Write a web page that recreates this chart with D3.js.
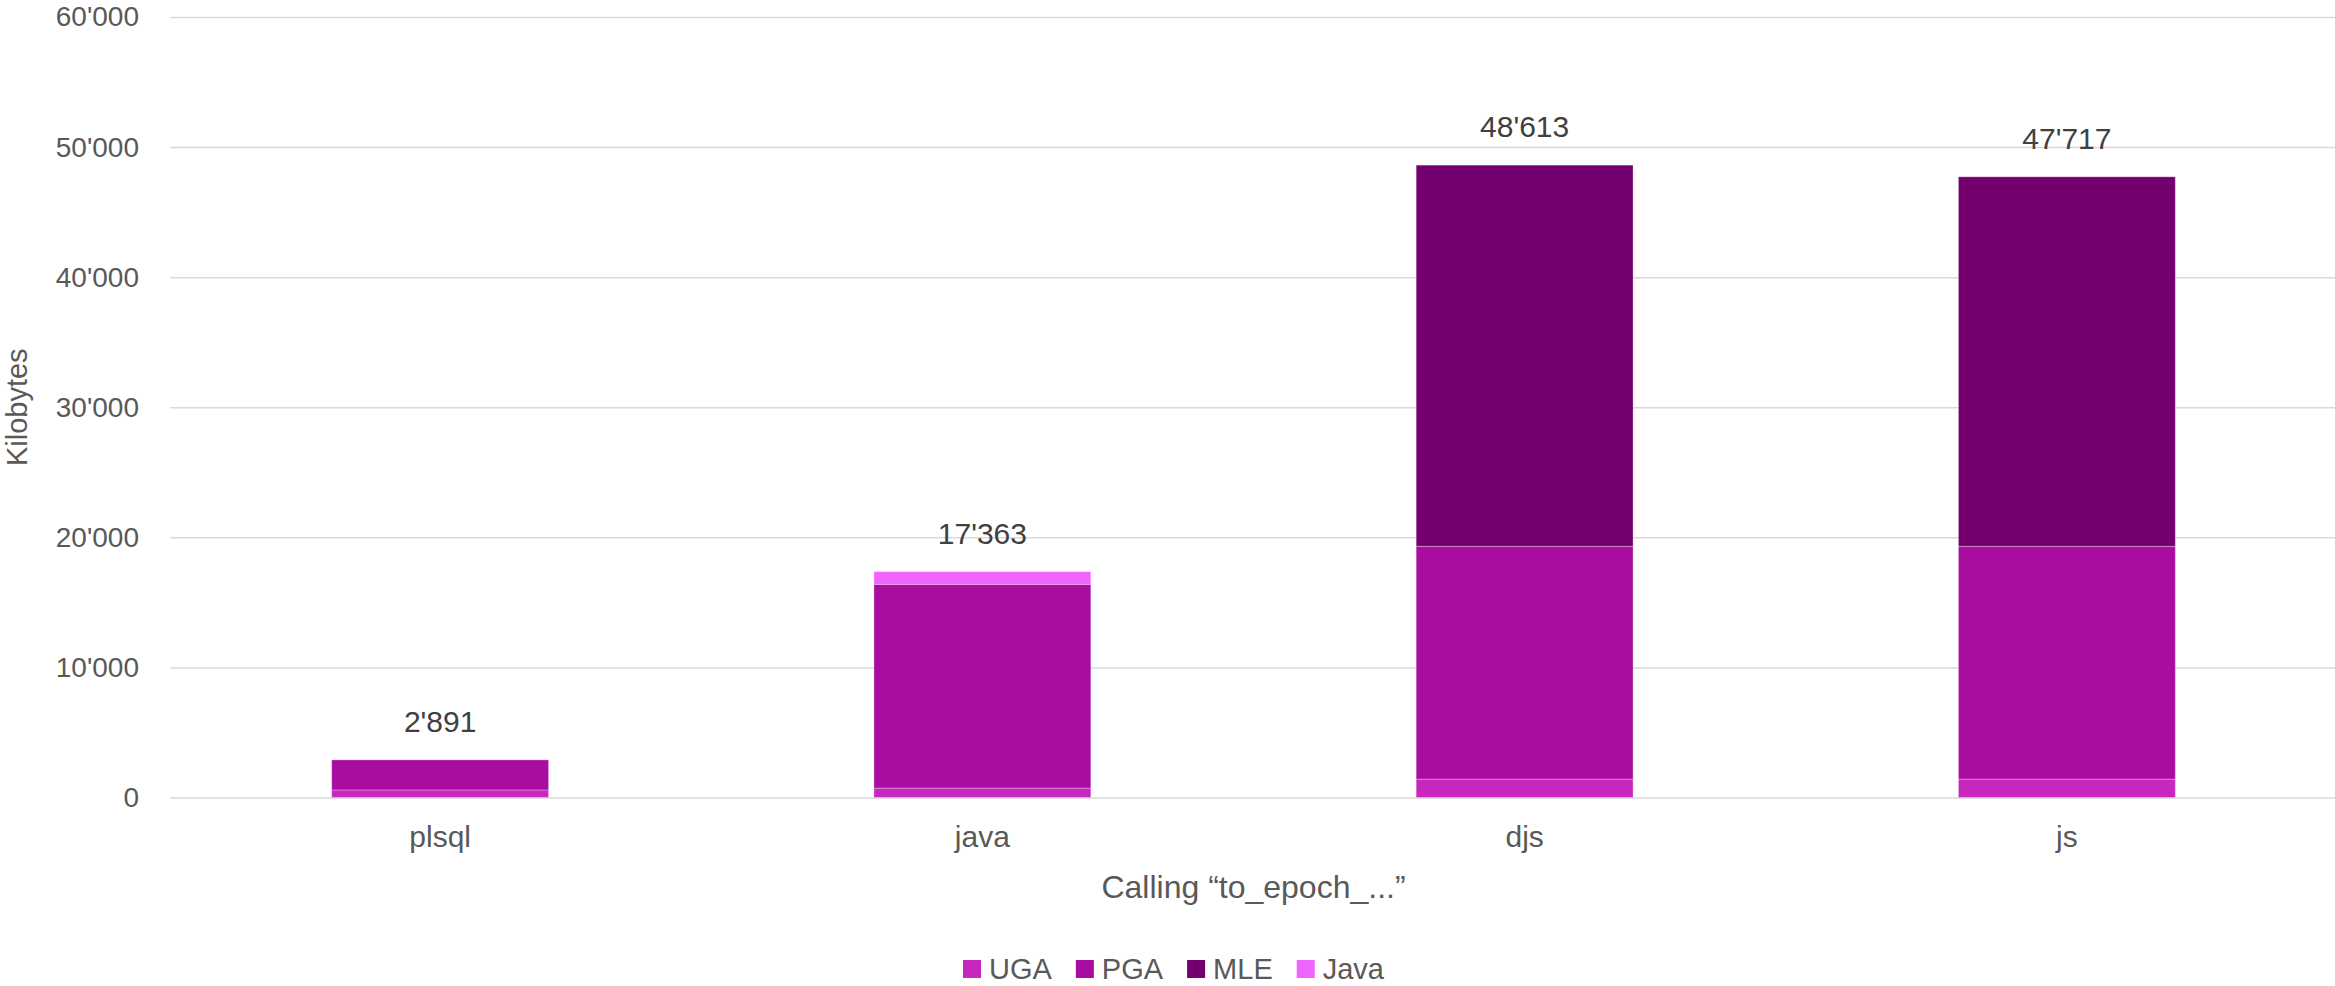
<!DOCTYPE html>
<html>
<head>
<meta charset="utf-8">
<script src="https://cdn.jsdelivr.net/npm/d3@7"></script>
<style>
  body { margin: 0; background: #fff; }
  svg { display: block; font-family: "Liberation Sans", Arial, sans-serif; }
</style>
</head>
<body>
<script>
// chart data
let categories = ['plsql', 'java', 'djs', 'js']
let seriesNames = ['UGA', 'PGA', 'MLE', 'Java']
let ugaValues = [580, 723, 1415, 1415]
let pgaValues = [2311, 15662, 17893, 17893]
let mleValues = [0, 0, 29305, 28409]
let javaValues = [0, 978, 0, 0]
let totals = [2891, 17363, 48613, 47717]
let yTicks = [0, 10000, 20000, 30000, 40000, 50000, 60000]

let colors = { UGA: '#c727bf', PGA: '#a90da0', MLE: '#74006f', Java: '#f064fe' }

let svgWidth = 2335, svgHeight = 986
let plot = { left: 169, right: 2338, top: 17, bottom: 797.5 }

let fmt = d3.formatLocale({ decimal: '.', thousands: "'", grouping: [3], currency: ['', ''] }).format(',d')

let rows = categories.map(function (c, i) {
    return { cat: c, UGA: ugaValues[i], PGA: pgaValues[i], MLE: mleValues[i], Java: javaValues[i], total: totals[i] }
})

let svg = d3.select('body').append('svg')
    .attr('width', svgWidth)
    .attr('height', svgHeight)

let xScale = d3.scaleBand()
    .domain(categories)
    .range([plot.left, plot.right])
    .paddingInner(0.6)
    .paddingOuter(0.3)

let yScale = d3.scaleLinear()
    .domain([0, 60000])
    .range([plot.bottom, plot.top])

// gridlines + y labels
let yAxis = svg.append('g')
    .attr('transform', 'translate(' + (plot.left + 1) + ',0)')
    .call(d3.axisLeft(yScale).tickValues(yTicks).tickFormat(fmt)
        .tickSize(-(svgWidth - plot.left)).tickPadding(31))
yAxis.select('.domain').remove()
yAxis.selectAll('line').attr('stroke', '#d9d9d9').attr('stroke-width', 1.5)
yAxis.selectAll('text').attr('fill', '#595959').style('font-size', '28px')
    .style('font-family', '"Liberation Sans", Arial, sans-serif')

// stacked bars
let stack = d3.stack().keys(seriesNames)
let layers = stack(rows)

svg.append('g').selectAll('g')
    .data(layers)
    .enter().append('g')
    .attr('fill', function (d) { return colors[d.key] })
    .selectAll('rect')
    .data(function (d) { return d.filter(function (p) { return p[1] > p[0] }) })
    .enter().append('rect')
    .attr('x', function (d) { return xScale(d.data.cat) })
    .attr('width', xScale.bandwidth())
    .attr('y', function (d) { return yScale(d[1]) })
    .attr('height', function (d) { return yScale(d[0]) - yScale(d[1]) })
    .attr('stroke', 'rgba(255,255,255,0.3)')
    .attr('stroke-width', 1)

// total labels
svg.append('g').selectAll('text')
    .data(rows)
    .enter().append('text')
    .attr('x', function (d) { return xScale(d.cat) + xScale.bandwidth() / 2 })
    .attr('y', function (d) { return yScale(d.total) - 28 })
    .attr('text-anchor', 'middle')
    .attr('fill', '#404040')
    .style('font-size', '30px')
    .text(function (d) { return fmt(d.total) })

// x labels
let xAxis = svg.append('g')
    .attr('transform', 'translate(0,' + plot.bottom + ')')
    .call(d3.axisBottom(xScale).tickSize(0).tickPadding(28))
xAxis.select('.domain').remove()
xAxis.selectAll('text').attr('fill', '#595959').style('font-size', '30px')
    .style('font-family', '"Liberation Sans", Arial, sans-serif')

// axis titles
svg.append('text')
    .attr('x', (plot.left + plot.right) / 2)
    .attr('y', 898)
    .attr('text-anchor', 'middle')
    .attr('fill', '#595959')
    .style('font-size', '32px')
    .text('Calling \u201cto_epoch_...\u201d')

svg.append('text')
    .attr('transform', 'translate(27,' + ((plot.top + plot.bottom) / 2) + ') rotate(-90)')
    .attr('text-anchor', 'middle')
    .attr('fill', '#595959')
    .style('font-size', '29px')
    .text('Kilobytes')

// legend
let legend = svg.append('g').attr('transform', 'translate(963,960)')
let lx = 0
seriesNames.forEach(function (name) {
    let item = legend.append('g').attr('transform', 'translate(' + lx + ',0)')
    item.append('rect').attr('width', 18).attr('height', 18).attr('fill', colors[name])
    let t = item.append('text')
        .attr('x', 26)
        .attr('y', 19)
        .attr('fill', '#595959')
        .style('font-size', '29px')
        .text(name)
    lx += 26 + t.node().getComputedTextLength() + 24
})
</script>
</body>
</html>
